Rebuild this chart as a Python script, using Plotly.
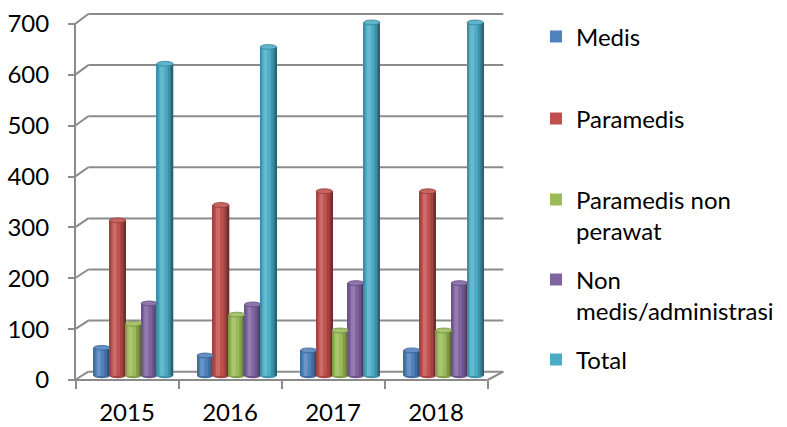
import plotly.graph_objects as go

# ---- data -------------------------------------------------------------
years = ["2015", "2016", "2017", "2018"]
series_names = ["Medis", "Paramedis", "Paramedis non<br>perawat",
                "Non<br>medis/administrasi", "Total"]
medis = [55, 40, 50, 50]
paramedis = [305, 335, 362, 362]
paramedis_non_perawat = [102, 120, 89, 89]
non_medis = [142, 140, 182, 182]
total = [612, 645, 693, 693]
y_ticks = [0, 100, 200, 300, 400, 500, 600, 700]

series_values = [medis, paramedis, paramedis_non_perawat, non_medis, total]
colors = ["#4F81BD", "#C0504D", "#9BBB59", "#8064A2", "#4BACC6"]

# ---- canvas geometry (pixels) -----------------------------------------
W, H = 787, 427
FONT = dict(family="Lato, Calibri, sans-serif", size=24, color="#000000")
GRID = "#8b8b8b"

# mid-depth plane used by the columns
GROUP_X0, GROUP_DX = 133.4, 103.4        # px of first group centre, px per category
MID_Y0, MID_K = 375.85, 0.510             # px of value 0, px per unit
# front plane (labelled axis)
FRONT_X, FRONT_Y0, FRONT_K = 75.0, 380.0, 0.5086
FRONT_CAT_X0, FRONT_CAT_DX = 127.0, 103.0
# back wall
BACK_X0, BACK_X1, BACK_Y0, BACK_K = 88.3, 503.3, 371.7, 0.511
FLOOR_RIGHT = 487.7

BAR_PX, PITCH_PX = 16.2, 15.8


def px(xp):
    return xp / W


def py(yp):
    return 1 - yp / H


def shade(hx, f):
    r, g, b = (int(hx[i:i + 2], 16) for i in (1, 3, 5))
    return "rgb(%d,%d,%d)" % (r * f, g * f, b * f)


def tint(hx, t):
    r, g, b = (int(hx[i:i + 2], 16) for i in (1, 3, 5))
    return "rgb(%d,%d,%d)" % (r + (255 - r) * t, g + (255 - g) * t, b + (255 - b) * t)


u = 1.0 / GROUP_DX           # x data units per pixel
wb = BAR_PX * u
xs = list(range(len(years)))

fig = go.Figure()
shapes = []

# ---- back wall gridlines, left diagonals, floor ------------------------
for v in y_ticks:
    yb = BACK_Y0 - BACK_K * v
    yf = FRONT_Y0 - FRONT_K * v
    shapes.append(dict(type="line", xref="paper", yref="paper", layer="below",
                       x0=px(BACK_X0), x1=px(BACK_X1), y0=py(yb), y1=py(yb),
                       line=dict(color=GRID, width=2)))
    shapes.append(dict(type="line", xref="paper", yref="paper", layer="below",
                       x0=px(FRONT_X), x1=px(BACK_X0), y0=py(yf), y1=py(yb),
                       line=dict(color=GRID, width=2)))
shapes.append(dict(type="line", xref="paper", yref="paper", layer="below",
                   x0=px(FRONT_X), x1=px(FRONT_X),
                   y0=py(FRONT_Y0), y1=py(FRONT_Y0 - FRONT_K * y_ticks[-1]),
                   line=dict(color=GRID, width=2)))
shapes.append(dict(type="line", xref="paper", yref="paper", layer="below",
                   x0=px(FRONT_X), x1=px(FLOOR_RIGHT), y0=py(FRONT_Y0), y1=py(FRONT_Y0),
                   line=dict(color=GRID, width=2)))
shapes.append(dict(type="line", xref="paper", yref="paper", layer="below",
                   x0=px(FLOOR_RIGHT), x1=px(BACK_X1), y0=py(FRONT_Y0), y1=py(BACK_Y0),
                   line=dict(color=GRID, width=2)))

# ---- cylinder columns --------------------------------------------------
layers = [  # (start, end, colour function)
    (0.00, 0.10, lambda c: shade(c, 0.84)),
    (0.66, 1.00, lambda c: shade(c, 0.84)),
    (0.82, 1.00, lambda c: shade(c, 0.70)),
    (0.93, 1.00, lambda c: shade(c, 0.58)),
    (0.20, 0.44, lambda c: tint(c, 0.16)),
]

for j, (name, vals, col) in enumerate(zip(series_names, series_values, colors)):
    centre = (j - 2) * PITCH_PX * u
    left = centre - wb / 2
    legend_id = "legend" if j == 0 else "legend%d" % (j + 1)
    fig.add_trace(go.Bar(x=xs, y=vals, name=name, width=wb, offset=left,
                         marker=dict(color=col, line=dict(width=0)),
                         legend=legend_id, hoverinfo="skip"))
    for a, b, fn in layers:
        fig.add_trace(go.Bar(x=xs, y=vals, width=(b - a) * wb, offset=left + a * wb,
                             marker=dict(color=fn(col), line=dict(width=0)),
                             showlegend=False, hoverinfo="skip"))
    for xi, v in zip(xs, vals):
        # rounded base and lit top cap of each cylinder
        shapes.append(dict(type="circle", xref="x", yref="y", layer="below",
                           xsizemode="pixel", ysizemode="pixel",
                           xanchor=xi + centre, yanchor=0,
                           x0=-BAR_PX / 2, x1=BAR_PX / 2, y0=-2.4, y1=2.4,
                           fillcolor=shade(col, 0.85), line=dict(width=0)))
        shapes.append(dict(type="circle", xref="x", yref="y", layer="above",
                           xsizemode="pixel", ysizemode="pixel",
                           xanchor=xi + centre, yanchor=v,
                           x0=-BAR_PX / 2, x1=BAR_PX / 2, y0=-2.4, y1=2.4,
                           fillcolor=tint(col, 0.12),
                           line=dict(width=0.8, color=shade(col, 0.75))))

# carrier for the front category axis
fig.add_trace(go.Scatter(x=years, y=[0] * len(years), xaxis="x2", yaxis="y2",
                         mode="markers", marker=dict(opacity=0),
                         showlegend=False, hoverinfo="skip"))

# ---- axes --------------------------------------------------------------
x_range = [(0 - GROUP_X0) / GROUP_DX, (W - GROUP_X0) / GROUP_DX]
y_range = [(MID_Y0 - H) / MID_K, MID_Y0 / MID_K]
y2_range = [(FRONT_Y0 - H) / FRONT_K, FRONT_Y0 / FRONT_K]
x2_range = [(0 - FRONT_CAT_X0) / FRONT_CAT_DX, (W - FRONT_CAT_X0) / FRONT_CAT_DX]

layout = dict(
    width=W, height=H, template="none",
    margin=dict(l=0, r=0, t=0, b=0, pad=0),
    paper_bgcolor="white", plot_bgcolor="rgba(0,0,0,0)",
    barmode="overlay", hovermode=False, font=FONT,
    xaxis=dict(range=x_range, domain=[0, 1], visible=False, fixedrange=True),
    yaxis=dict(range=y_range, domain=[0, 1], visible=False, fixedrange=True),
    xaxis2=dict(overlaying="x", anchor="free", position=py(FRONT_Y0), side="bottom",
                type="category", range=x2_range, tickson="boundaries",
                ticks="outside", ticklen=8, tickwidth=2, tickcolor=GRID,
                showline=False, showgrid=False, zeroline=False,
                tickfont=FONT, ticklabelstandoff=16, automargin=False),
    yaxis2=dict(overlaying="y", anchor="free", position=px(FRONT_X), side="left",
                range=y2_range, tickmode="array", tickvals=y_ticks,
                ticktext=[str(t) for t in y_ticks],
                ticks="outside", ticklen=7, tickwidth=2, tickcolor=GRID,
                showline=False, showgrid=False, zeroline=False,
                tickfont=FONT, ticklabelstandoff=14, automargin=False),
    shapes=shapes,
)

# one legend block per series so each entry sits at its own height
legend_first_line_px = [36.5, 118.5, 199.5, 279.5, 359.5]
for j, cy in enumerate(legend_first_line_px):
    key = "legend" if j == 0 else "legend%d" % (j + 1)
    layout[key] = dict(x=px(536), y=py(cy - 22.1), xanchor="left", yanchor="top",
                       font=FONT, bgcolor="rgba(0,0,0,0)", borderwidth=0,
                       valign="top", itemclick=False, itemdoubleclick=False)

fig.update_layout(**layout)
fig.write_html("out.html")
